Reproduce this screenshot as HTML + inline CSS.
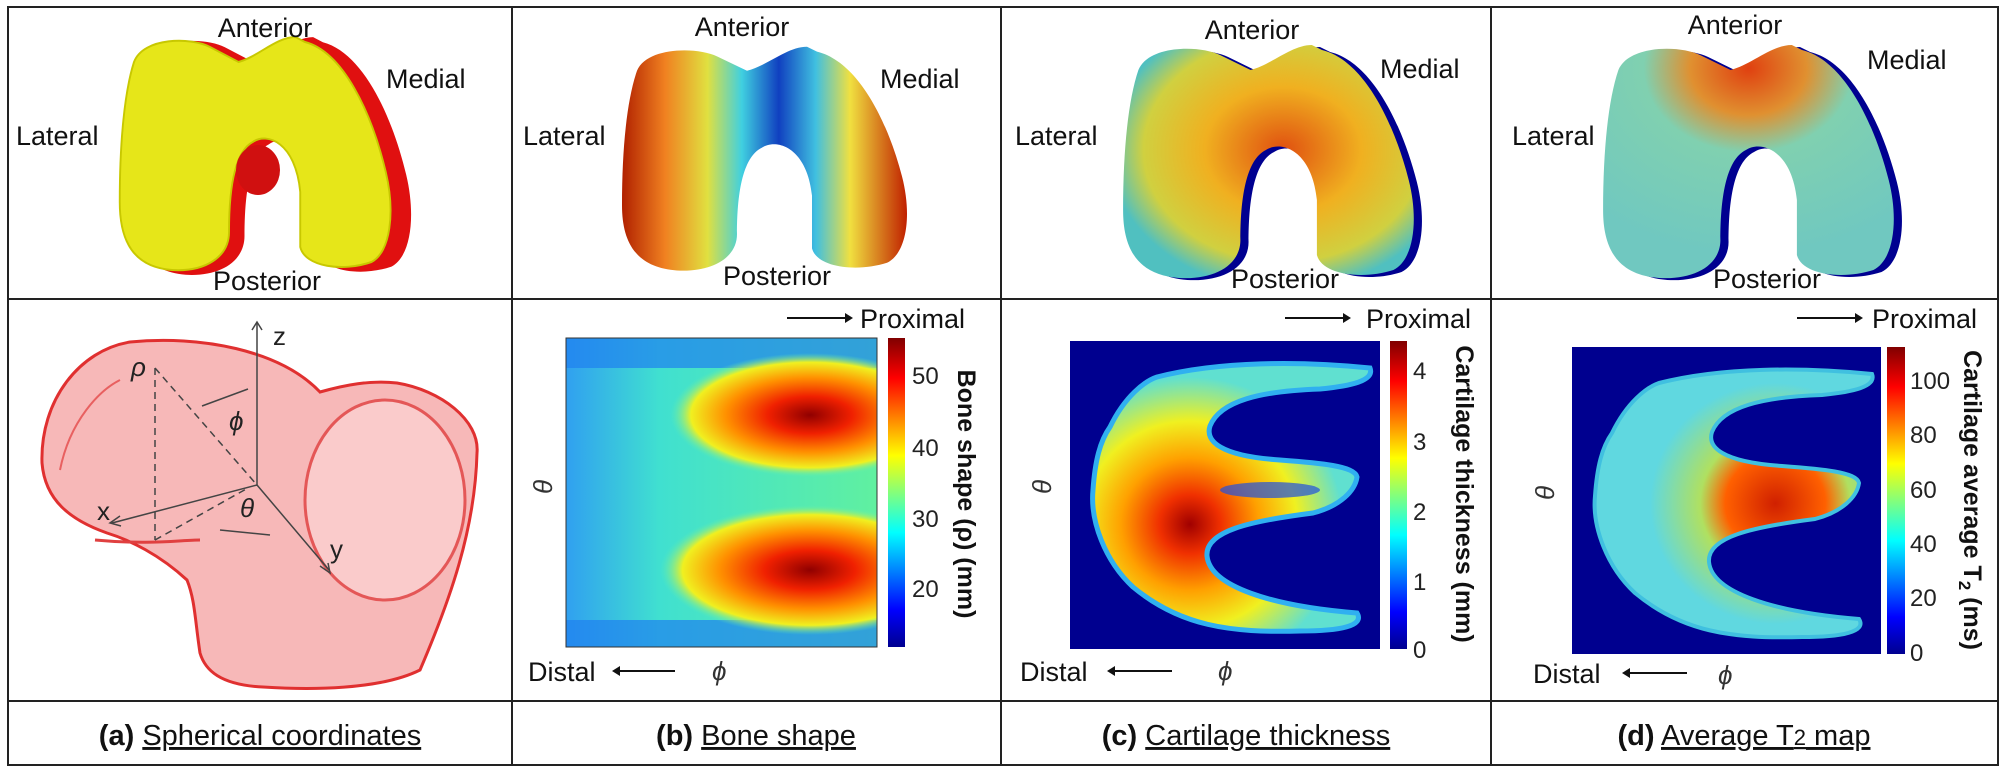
<!DOCTYPE html>
<html><head><meta charset="utf-8"><style>
body{margin:0;background:#fff;width:2006px;height:774px;overflow:hidden}
svg{display:block}
text{font-family:"Liberation Sans",sans-serif}
</style></head><body>
<svg width="2006" height="774" viewBox="0 0 2006 774">
<defs>
<linearGradient id="jet" x1="0" y1="1" x2="0" y2="0">
<stop offset="0" stop-color="#00008f"/><stop offset="0.12" stop-color="#0000ff"/><stop offset="0.37" stop-color="#00ffff"/><stop offset="0.62" stop-color="#ffff00"/><stop offset="0.87" stop-color="#ff0000"/><stop offset="1" stop-color="#800000"/>
</linearGradient>
<linearGradient id="gb" x1="0" y1="0" x2="1" y2="0">
<stop offset="0" stop-color="#b02000"/><stop offset="0.15" stop-color="#f08020"/><stop offset="0.3" stop-color="#e0e040"/><stop offset="0.42" stop-color="#40d0e0"/><stop offset="0.55" stop-color="#1040c0"/><stop offset="0.68" stop-color="#40c0e0"/><stop offset="0.8" stop-color="#f0e040"/><stop offset="1" stop-color="#c02000"/>
</linearGradient>
<radialGradient id="gc" cx="0.55" cy="0.45" r="0.6">
<stop offset="0" stop-color="#e05010"/><stop offset="0.45" stop-color="#f0b020"/><stop offset="0.8" stop-color="#d0d040"/><stop offset="1" stop-color="#50c0c0"/>
</radialGradient>
<radialGradient id="gd" cx="0.5" cy="0.1" r="0.8">
<stop offset="0" stop-color="#e04010"/><stop offset="0.25" stop-color="#e09030"/><stop offset="0.45" stop-color="#80d0b0"/><stop offset="1" stop-color="#70c8c0"/>
</radialGradient>
<radialGradient id="ec" cx="0.35" cy="0.6" r="0.55">
<stop offset="0" stop-color="#a00000"/><stop offset="0.2" stop-color="#f03000"/><stop offset="0.45" stop-color="#ffa000"/><stop offset="0.7" stop-color="#f0f020"/><stop offset="1" stop-color="#60e0d0"/>
</radialGradient>
<radialGradient id="ed" cx="0.65" cy="0.5" r="0.45">
<stop offset="0" stop-color="#d02000"/><stop offset="0.4" stop-color="#ff6000"/><stop offset="0.6" stop-color="#b0e060"/><stop offset="1" stop-color="#60d8e0"/>
</radialGradient>
<radialGradient id="hot" cx="0.5" cy="0.5" r="0.5">
<stop offset="0" stop-color="#900000"/><stop offset="0.3" stop-color="#f02000"/><stop offset="0.6" stop-color="#ff9000"/><stop offset="0.85" stop-color="#f0f020"/><stop offset="1" stop-color="#60f0b0" stop-opacity="0"/>
</radialGradient>
<linearGradient id="bbg" x1="0" y1="0" x2="1" y2="0">
<stop offset="0" stop-color="#30a0f0"/><stop offset="0.3" stop-color="#40e0d0"/><stop offset="1" stop-color="#60f0a0"/>
</linearGradient>
<clipPath id="cb"><rect x="566" y="338" width="311" height="309"/></clipPath>
<path id="knee" d="M20,30 C30,5 80,5 100,15 L130,30 C150,25 170,5 190,5 L200,10 C240,20 270,80 285,140 C295,180 290,220 270,230 C240,240 200,235 195,215 L195,160 C190,110 160,100 145,110 C125,120 120,160 120,200 C120,225 95,240 60,238 C20,235 5,210 5,170 C5,110 10,60 20,30 Z"/>
<path id="E" d="M40,86 C55,55 75,40 87,36 C150,20 230,20 300,27 C305,40 280,45 250,48 C190,50 150,60 140,85 C135,100 150,115 210,119 C250,122 285,125 287,136 C285,150 270,165 243,172 C180,180 135,190 137,215 C140,245 200,265 287,272 C295,285 270,290 230,290 C160,292 110,285 63,246 C35,220 20,180 23,149 C25,120 30,100 40,86 Z"/>
</defs>

<g stroke="#222" stroke-width="2" fill="none">
<rect x="8" y="7" width="1990" height="758"/>
<line x1="512" y1="7" x2="512" y2="765"/><line x1="1001" y1="7" x2="1001" y2="765"/><line x1="1491" y1="7" x2="1491" y2="765"/>
<line x1="8" y1="299" x2="1998" y2="299"/><line x1="8" y1="701" x2="1998" y2="701"/>
</g>

<g transform="translate(122,32) scale(0.98,1.02)"><use href="#knee" fill="#e01010" transform="translate(5,0)"/></g>
<g transform="translate(115,32) scale(0.95,1.0)"><use href="#knee" fill="#e6e619" stroke="#c8c800" stroke-width="2"/></g>
<ellipse cx="258" cy="170" rx="22" ry="25" fill="#d01010"/>
<g transform="translate(617,42) scale(1.0,0.96)"><use href="#knee" fill="url(#gb)"/></g>
<g transform="translate(1118,40) scale(1.02,1.0)"><use href="#knee" fill="#000090" transform="translate(8,2)"/><use href="#knee" fill="url(#gc)"/></g>
<g transform="translate(1598,40) scale(1.02,1.0)"><use href="#knee" fill="#000090" transform="translate(8,2)"/><use href="#knee" fill="url(#gd)"/></g>

<g font-size="27" fill="#111">
<text x="265" y="37" text-anchor="middle">Anterior</text><text x="386" y="88">Medial</text><text x="16" y="145">Lateral</text><text x="267" y="290" text-anchor="middle">Posterior</text>
<text x="742" y="36" text-anchor="middle">Anterior</text><text x="880" y="88">Medial</text><text x="523" y="145">Lateral</text><text x="777" y="285" text-anchor="middle">Posterior</text>
<text x="1252" y="39" text-anchor="middle">Anterior</text><text x="1380" y="78">Medial</text><text x="1015" y="145">Lateral</text><text x="1285" y="288" text-anchor="middle">Posterior</text>
<text x="1735" y="34" text-anchor="middle">Anterior</text><text x="1867" y="69">Medial</text><text x="1512" y="145">Lateral</text><text x="1767" y="288" text-anchor="middle">Posterior</text>
</g>

<path d="M42,463 C40,400 80,350 130,342 C200,335 280,350 320,392 C345,385 370,380 397,383 C440,390 480,420 477,453 C475,530 450,600 420,670 C380,690 310,690 263,687 C220,685 205,670 200,653 C195,620 195,600 187,580 C160,555 130,540 107,533 C70,520 45,500 42,463 Z" fill="#f7b8b8" stroke="#e03030" stroke-width="3"/>
<ellipse cx="385" cy="500" rx="80" ry="100" fill="#fbd0d0" stroke="#e04040" stroke-width="3" opacity="0.8"/>
<path d="M60,470 C70,420 100,390 120,380" stroke="#e86060" stroke-width="2" fill="none"/>
<path d="M95,540 C150,545 180,540 200,540" stroke="#e04040" stroke-width="3" fill="none"/>
<g stroke="#444" stroke-width="1.5" fill="none">
<line x1="257" y1="485" x2="257" y2="323"/><path d="M252,330 L257,322 L262,330"/>
<line x1="257" y1="485" x2="112" y2="523"/><path d="M120,516 L110,523 L121,526"/>
<line x1="257" y1="485" x2="329" y2="570"/><path d="M320,566 L330,573 L328,563"/>
<g stroke-dasharray="7,5"><line x1="155" y1="368" x2="155" y2="540"/><line x1="155" y1="368" x2="257" y2="485"/><line x1="155" y1="540" x2="248" y2="488"/></g>
<line x1="202" y1="406" x2="248" y2="389"/><line x1="220" y1="530" x2="270" y2="535"/>
</g>
<g font-size="26" fill="#222"><text x="273" y="345">z</text><text x="97" y="520">x</text><text x="330" y="558">y</text>
<text x="131" y="376" font-style="italic" font-family="Liberation Serif">ρ</text><text x="229" y="430" font-style="italic" font-family="Liberation Serif">ϕ</text><text x="240" y="517" font-style="italic" font-family="Liberation Serif">θ</text></g>

<rect x="566" y="338" width="311" height="309" fill="url(#bbg)"/>
<g clip-path="url(#cb)">
<rect x="566" y="338" width="311" height="30" fill="#2080f0" opacity="0.7"/>
<rect x="566" y="620" width="311" height="27" fill="#2080f0" opacity="0.7"/>
<ellipse cx="810" cy="415" rx="140" ry="62" fill="url(#hot)"/>
<ellipse cx="810" cy="570" rx="150" ry="65" fill="url(#hot)"/>
</g>
<rect x="566" y="338" width="311" height="309" fill="none" stroke="#333" stroke-width="1"/>
<rect x="888" y="338" width="17" height="309" fill="url(#jet)"/>
<g font-size="24" fill="#222"><text x="912" y="384">50</text><text x="912" y="456">40</text><text x="912" y="527">30</text><text x="912" y="597">20</text></g>
<text transform="translate(958,494) rotate(90)" text-anchor="middle" font-size="25" font-weight="bold" fill="#111">Bone shape (ρ) (mm)</text>

<rect x="1070" y="341" width="310" height="308" fill="#00008f"/>
<g transform="translate(1070,341)"><use href="#E" fill="url(#ec)" stroke="#30b0f0" stroke-width="5"/></g>
<ellipse cx="1270" cy="490" rx="50" ry="8" fill="#2050e0" opacity="0.7"/>
<rect x="1390" y="341" width="17" height="308" fill="url(#jet)"/>
<g font-size="24" fill="#222"><text x="1413" y="379">4</text><text x="1413" y="450">3</text><text x="1413" y="520">2</text><text x="1413" y="590">1</text><text x="1413" y="658">0</text></g>
<text transform="translate(1456,494) rotate(90)" text-anchor="middle" font-size="25" font-weight="bold" fill="#111">Cartilage thickness (mm)</text>

<rect x="1572" y="347" width="309" height="307" fill="#00008f"/>
<g transform="translate(1572,347)"><use href="#E" fill="url(#ed)" stroke="#40c0e0" stroke-width="4"/></g>
<rect x="1887" y="347" width="18" height="307" fill="url(#jet)"/>
<g font-size="24" fill="#222"><text x="1910" y="389">100</text><text x="1910" y="443">80</text><text x="1910" y="498">60</text><text x="1910" y="552">40</text><text x="1910" y="606">20</text><text x="1910" y="661">0</text></g>
<text transform="translate(1964,500) rotate(90)" text-anchor="middle" font-size="25" font-weight="bold" fill="#111">Cartilage average T<tspan font-size="17" dy="5">2</tspan><tspan dy="-5"> (ms)</tspan></text>

<g stroke="#111" stroke-width="2">
<line x1="787" y1="318" x2="845" y2="318"/><line x1="1285" y1="318" x2="1343" y2="318"/><line x1="1797" y1="318" x2="1855" y2="318"/>
<line x1="620" y1="671" x2="675" y2="671"/><line x1="1115" y1="671" x2="1172" y2="671"/><line x1="1630" y1="673" x2="1687" y2="673"/>
</g>
<g fill="#111">
<path d="M845,313 L853,318 L845,323Z"/><path d="M1343,313 L1351,318 L1343,323Z"/><path d="M1855,313 L1863,318 L1855,323Z"/>
<path d="M620,666 L612,671 L620,676Z"/><path d="M1115,666 L1107,671 L1115,676Z"/><path d="M1630,668 L1622,673 L1630,678Z"/>
</g>
<g font-size="27" fill="#111">
<text x="860" y="328">Proximal</text><text x="1366" y="328">Proximal</text><text x="1872" y="328">Proximal</text>
<text x="528" y="681">Distal</text><text x="1020" y="681">Distal</text><text x="1533" y="683">Distal</text>
</g>
<g font-size="26" font-style="italic" font-family="Liberation Serif" fill="#333">
<text x="712" y="680">ϕ</text><text x="1218" y="680">ϕ</text><text x="1718" y="684">ϕ</text>
<text transform="translate(552,494) rotate(-90)">θ</text><text transform="translate(1051,494) rotate(-90)">θ</text><text transform="translate(1554,500) rotate(-90)">θ</text>
</g>

<g font-size="29" fill="#111" text-anchor="middle">
<text x="260" y="745"><tspan font-weight="bold">(a)</tspan> <tspan text-decoration="underline">Spherical coordinates</tspan></text>
<text x="756" y="745"><tspan font-weight="bold">(b)</tspan> <tspan text-decoration="underline">Bone shape</tspan></text>
<text x="1246" y="745"><tspan font-weight="bold">(c)</tspan> <tspan text-decoration="underline">Cartilage thickness</tspan></text>
<text x="1744" y="745"><tspan font-weight="bold">(d)</tspan> <tspan text-decoration="underline">Average T<tspan font-size="22">2</tspan> map</tspan></text>
</g>
</svg>
</body></html>
